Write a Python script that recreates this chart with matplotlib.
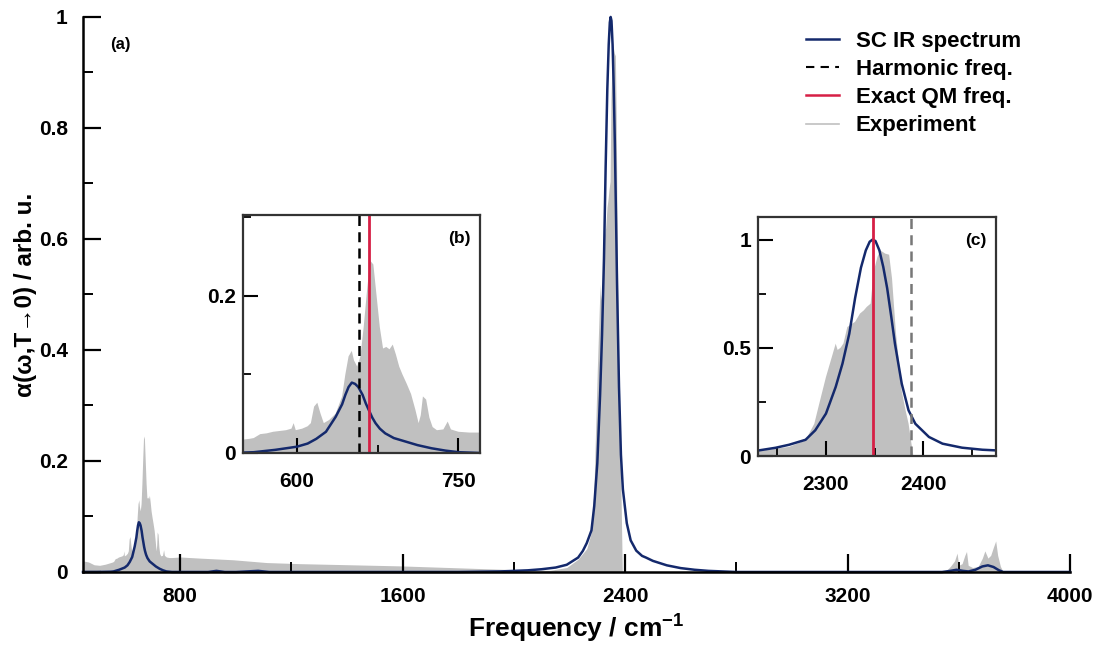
import matplotlib
matplotlib.use('Agg')
import matplotlib.pyplot as plt
from matplotlib.ticker import MultipleLocator, FormatStrFormatter
from matplotlib.lines import Line2D

plt.rcParams['font.family'] = ['Liberation Sans', 'DejaVu Sans']
plt.rcParams['font.weight'] = 'bold'
plt.rcParams['mathtext.fontset'] = 'custom'
plt.rcParams['mathtext.rm'] = 'Liberation Sans:bold'
plt.rcParams['mathtext.bf'] = 'Liberation Sans:bold'
plt.rcParams['mathtext.default'] = 'bf'

# semiclassical IR spectrum
sc_freq = [450, 500, 550, 560, 580, 600, 610, 618, 627, 636, 642, 645, 648, 651,
           654, 657, 661, 664, 667, 670, 673, 677, 682, 690, 701, 712, 725, 738,
           750, 760, 770, 800, 900, 930, 960, 1000, 1080, 1120, 1200, 1400, 1600,
           1800, 1950, 2000, 2050, 2100, 2150, 2190, 2231, 2248, 2262, 2279, 2289,
           2300, 2310, 2317, 2324, 2330, 2336, 2341, 2345, 2348, 2351, 2355, 2359,
           2363, 2367, 2371, 2378, 2385, 2392, 2406, 2420, 2440, 2461, 2475, 2500,
           2550, 2600, 2650, 2700, 2800, 3000, 3200, 3400, 3540, 3570, 3592, 3615,
           3635, 3660, 3685, 3705, 3725, 3745, 3760, 3800, 4000]
sc_val = [0.0, 0.0, 0.0005, 0.001, 0.004, 0.008, 0.012, 0.018, 0.027, 0.046, 0.062,
          0.074, 0.084, 0.0896, 0.088, 0.084, 0.074, 0.063, 0.054, 0.045, 0.038,
          0.031, 0.025, 0.019, 0.0145, 0.010, 0.006, 0.003, 0.001, 0.0005, 0.0,
          0.0, 0.0, 0.002, 0.0, 0.0, 0.002, 0.0, 0.0, 0.0, 0.0, 0.0, 0.001, 0.002,
          0.003, 0.005, 0.008, 0.013, 0.026, 0.038, 0.052, 0.075, 0.119, 0.196,
          0.319, 0.427, 0.565, 0.730, 0.870, 0.950, 0.990, 1.0, 0.993, 0.950,
          0.873, 0.775, 0.650, 0.519, 0.334, 0.211, 0.149, 0.088, 0.057, 0.0385,
          0.029, 0.026, 0.020, 0.012, 0.007, 0.004, 0.002, 0.0, 0.0, 0.0, 0.0,
          0.0, 0.002, 0.004, 0.002, 0.001, 0.004, 0.010, 0.012, 0.009, 0.003, 0.0,
          0.0, 0.0]

# experimental spectrum
exp_freq = [450, 470, 490, 510, 530, 550, 556, 560, 566, 572, 578, 584, 590, 595,
            597, 599, 605, 610, 613, 616, 619, 622, 625, 630, 636, 642, 645, 648,
            651, 653, 656, 659, 662, 665, 668, 671, 674, 677, 680, 683, 686, 689,
            692, 695, 698, 702, 706, 710, 713, 715, 717, 720, 723, 726, 730, 736,
            740, 743, 750, 760, 770, 800, 870, 990, 1110, 1230, 1410, 1590, 1830,
            2010, 2130, 2190, 2231, 2262, 2279, 2288, 2293, 2300, 2306, 2310, 2312,
            2315, 2318, 2322, 2327, 2330, 2335, 2339, 2342, 2346, 2349, 2353, 2356,
            2361, 2365, 2368, 2372, 2375, 2378, 2382, 2385, 2388, 2390, 3550, 3570,
            3585, 3594, 3600, 3612, 3622, 3628, 3634, 3650, 3670, 3685, 3694, 3705,
            3715, 3725, 3733, 3740, 3750, 3760, 4000]
exp_val = [0.020, 0.018, 0.013, 0.012, 0.014, 0.017, 0.018, 0.019, 0.024, 0.025,
           0.027, 0.028, 0.029, 0.031, 0.038, 0.029, 0.031, 0.034, 0.038, 0.059,
           0.064, 0.050, 0.038, 0.042, 0.050, 0.072, 0.100, 0.123, 0.130, 0.118,
           0.110, 0.123, 0.160, 0.205, 0.245, 0.240, 0.200, 0.160, 0.133, 0.135,
           0.132, 0.138, 0.125, 0.110, 0.100, 0.088, 0.075, 0.055, 0.038, 0.048,
           0.072, 0.068, 0.045, 0.033, 0.029, 0.030, 0.040, 0.030, 0.027, 0.026,
           0.026, 0.027, 0.025, 0.022, 0.017, 0.015, 0.013, 0.011, 0.007, 0.004,
           0.003, 0.008, 0.023, 0.042, 0.072, 0.149, 0.240, 0.365, 0.457, 0.519,
           0.490, 0.500, 0.520, 0.596, 0.611, 0.620, 0.658, 0.673, 0.689, 0.704,
           0.850, 0.920, 0.950, 0.935, 0.930, 0.820, 0.570, 0.440, 0.300, 0.210,
           0.150, 0.057, 0.0, 0.0, 0.010, 0.020, 0.034, 0.012, 0.015, 0.030, 0.037,
           0.012, 0.008, 0.010, 0.025, 0.038, 0.025, 0.030, 0.045, 0.056, 0.030,
           0.010, 0.0, 0.0]

harm_bend = 658
qm_bend = 667
harm_stretch = 2388
qm_stretch = 2348

blue = '#14296c'
red = '#d61f45'
grey = '#c0c0c0'

fig = plt.figure(figsize=(11.02, 6.45), dpi=100)
ax = fig.add_axes([0.0753, 0.1132, 0.8956, 0.8605])

ax.fill_between(exp_freq, exp_val, 0, color=grey, lw=0)
ax.plot(sc_freq, sc_val, color=blue, lw=1.8, clip_on=False)
ax.set_xlim(450, 4000)
ax.set_ylim(0, 1)
ax.spines['top'].set_visible(False)
ax.spines['right'].set_visible(False)
for s in ['left', 'bottom']:
    ax.spines[s].set_linewidth(1.8)
ax.xaxis.set_major_locator(MultipleLocator(800))
ax.xaxis.set_minor_locator(MultipleLocator(400))
ax.yaxis.set_major_locator(MultipleLocator(0.2))
ax.yaxis.set_minor_locator(MultipleLocator(0.1))
ax.yaxis.set_major_formatter(FormatStrFormatter('%g'))
ax.tick_params(which='major', direction='in', length=13, width=1.6, labelsize=15)
ax.tick_params(axis='x', which='major', pad=11)
ax.tick_params(axis='y', which='major', pad=11)
ax.tick_params(which='minor', direction='in', length=7, width=1.4)
ax.set_xlabel('Frequency / cm$^{-1}$', fontsize=19, fontweight='bold', labelpad=5)
ax.set_ylabel('α(ω,T→0) / arb. u.', fontsize=17.5, fontweight='bold', labelpad=1)
ax.text(0.027, 0.95, '(a)', transform=ax.transAxes, fontsize=12, fontweight='bold',
        va='center')

handles = [Line2D([], [], color=blue, lw=1.8),
           Line2D([], [], color='black', lw=1.5, ls=(0, (4, 3))),
           Line2D([], [], color=red, lw=1.8),
           Line2D([], [], color=grey, lw=1.2)]
labels = ['SC IR spectrum', 'Harmonic freq.', 'Exact QM freq.', 'Experiment']
fig.legend(handles, labels, loc='upper left', bbox_to_anchor=(0.713, 0.983),
           frameon=False, fontsize=16, handlelength=1.5, handletextpad=0.75,
           labelspacing=0.32)


def inset(rect, xlim, ylim, xmaj, xmin, ymaj, ymin, harm, qm, harm_col, tag):
    a = fig.add_axes(rect)
    a.fill_between(exp_freq, exp_val, 0, color=grey, lw=0)
    a.plot(sc_freq, sc_val, color=blue, lw=1.8)
    a.axvline(harm, color=harm_col, lw=1.8, ls=(0, (4, 2.5)))
    a.axvline(qm, color=red, lw=2.0)
    a.set_xlim(*xlim)
    a.set_ylim(*ylim)
    for s in a.spines.values():
        s.set_linewidth(1.6)
        s.set_color('#333333')
    a.xaxis.set_major_locator(MultipleLocator(xmaj))
    a.xaxis.set_minor_locator(MultipleLocator(xmin))
    a.yaxis.set_major_locator(MultipleLocator(ymaj))
    a.yaxis.set_minor_locator(MultipleLocator(ymin))
    a.yaxis.set_major_formatter(FormatStrFormatter('%g'))
    a.tick_params(which='major', direction='in', length=11, width=1.5, labelsize=15)
    a.tick_params(axis='x', which='major', pad=14)
    a.tick_params(axis='y', which='major', pad=5)
    a.tick_params(which='minor', direction='in', length=6, width=1.3)
    a.text(0.96, 0.9, tag, transform=a.transAxes, ha='right', va='center',
           fontsize=12.5, fontweight='bold')
    return a


inset([0.2205, 0.2977, 0.2151, 0.369], (550, 770), (0, 0.303), 150, 75, 0.2, 0.1,
      harm_bend, qm_bend, 'black', '(b)')
inset([0.6878, 0.293, 0.216, 0.3705], (2230, 2475), (0, 1.104), 100, 50, 0.5, 0.25,
      harm_stretch, qm_stretch, '#777777', '(c)')

fig.savefig('out.png', dpi=100)
